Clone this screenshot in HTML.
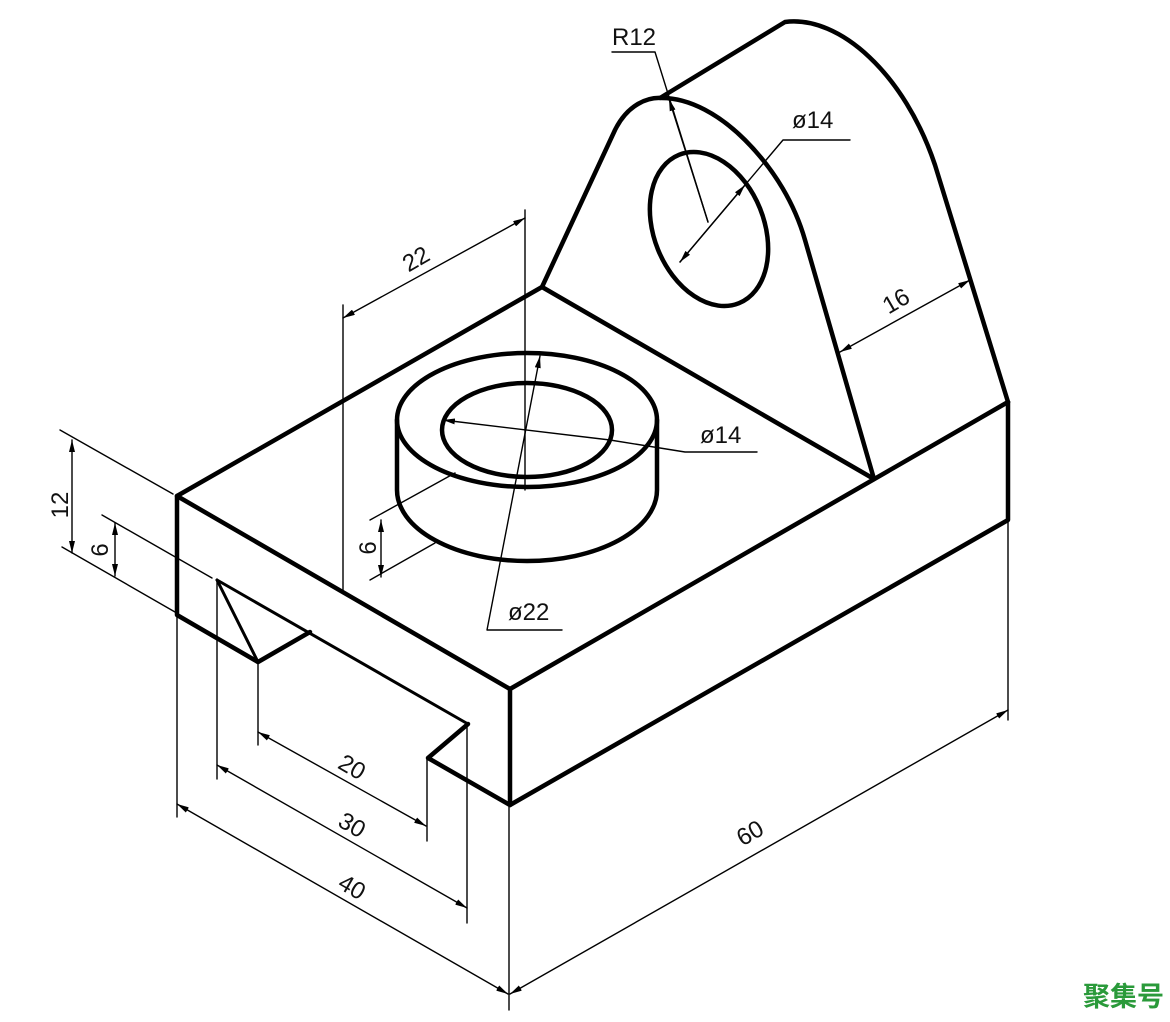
<!DOCTYPE html>
<html><head><meta charset="utf-8"><style>
html,body{margin:0;padding:0;background:#fff;}
svg{display:block;}
text{font-family:"Liberation Sans",sans-serif;font-size:24px;fill:#111;}
</style></head><body>
<svg width="1170" height="1022" viewBox="0 0 1170 1022" xmlns="http://www.w3.org/2000/svg">
<defs>
<marker id="a" viewBox="0 0 12 6" refX="12" refY="3" markerWidth="12" markerHeight="6" markerUnits="userSpaceOnUse" orient="auto-start-reverse"><path d="M0,0 L12,3 L0,6z" fill="#000"/></marker>
</defs>
<g fill="none" stroke="#000" stroke-linejoin="round" stroke-linecap="round">
<g stroke-width="4.5">
<path d="M542,287 L177,496 L510,689 L1008,402"/>
<path d="M177,496 L177,615 L258,662 L310,632"/>
<path d="M468,724 L428,758 L510,805 L1008,520 L1008,402"/>
<path d="M510,689 L510,805"/>
<path d="M542,287 L874,479"/>
<path d="M542,287 L615,130 C628,104 648,97 662,98 C690,98 720,115 745,140 C775,170 795,205 805,240 L874,479"/>
<path d="M660,98 L785,22 C840,15 905,75 935,165 L1008,402"/>
<ellipse cx="709" cy="229" rx="55" ry="80" transform="rotate(-22 709 229)"/>
<ellipse cx="527" cy="420" rx="130" ry="67"/>
<ellipse cx="527" cy="430" rx="85" ry="47"/>
<path d="M397,420 L397,490 A130,71 0 0 0 657,490 L657,420"/>
</g>
<g stroke-width="3">
<path d="M217,580 L258,662"/>
<path d="M217,580 L468,724"/>
</g>
<g stroke-width="1.4">
<path d="M343,305 V590 M525,210 V490"/>
<path d="M343,318 L525,218" marker-start="url(#a)" marker-end="url(#a)"/>
<path d="M60,430 L173,494 M62,547 L175,612 M102,515 L212,578"/>
<path d="M72,440 V553" marker-start="url(#a)" marker-end="url(#a)"/>
<path d="M115,523 V576" marker-start="url(#a)" marker-end="url(#a)"/>
<path d="M370,520 L455,473 M370,580 L435,543"/>
<path d="M381,520 V577" marker-start="url(#a)" marker-end="url(#a)"/>
<path d="M443,420 L610,440" marker-start="url(#a)"/>
<path d="M610,440 L685,452 H757"/>
<path d="M540,356 L487,630 H562" marker-start="url(#a)"/>
<path d="M177,615 V817 M217,580 V779 M258,662 V745 M427,758 V841 M467,724 V923 M509,805 V1010 M1008,520 V720"/>
<path d="M258,732 L426,826" marker-start="url(#a)" marker-end="url(#a)"/>
<path d="M217,765 L467,908" marker-start="url(#a)" marker-end="url(#a)"/>
<path d="M177,804 L508,994" marker-start="url(#a)" marker-end="url(#a)"/>
<path d="M510,994 L1008,710" marker-start="url(#a)" marker-end="url(#a)"/>
<path d="M840,352 L970,280" marker-start="url(#a)" marker-end="url(#a)"/>
<path d="M612,52 H655 L708,222"/>
<path d="M708,222 L669,99" marker-end="url(#a)"/>
<path d="M680,262 L783,140 H850" marker-start="url(#a)"/>
<path d="M680,262 L745,185" marker-end="url(#a)"/>
</g>
</g>
<g>
<text x="612" y="45">R12</text>
<text x="792" y="128">ø14</text>
<text x="700" y="443">ø14</text>
<text x="508" y="620">ø22</text>
<text transform="translate(420,266) rotate(-30)" text-anchor="middle">22</text>
<text transform="translate(900,308) rotate(-30)" text-anchor="middle">16</text>
<text transform="translate(68,505) rotate(-90)" text-anchor="middle">12</text>
<text transform="translate(108,550) rotate(-90)" text-anchor="middle">6</text>
<text transform="translate(376,548) rotate(-90)" text-anchor="middle">6</text>
<text transform="translate(348,774) rotate(30)" text-anchor="middle">20</text>
<text transform="translate(348,832) rotate(30)" text-anchor="middle">30</text>
<text transform="translate(348,894) rotate(30)" text-anchor="middle">40</text>
<text transform="translate(754,840) rotate(-30)" text-anchor="middle">60</text>
<text x="1083" y="1006" style="font-family:'Noto Sans CJK SC',sans-serif;font-size:27px;fill:#2a9a3a;font-weight:bold">聚集号</text>
</g>
</svg>
</body></html>
